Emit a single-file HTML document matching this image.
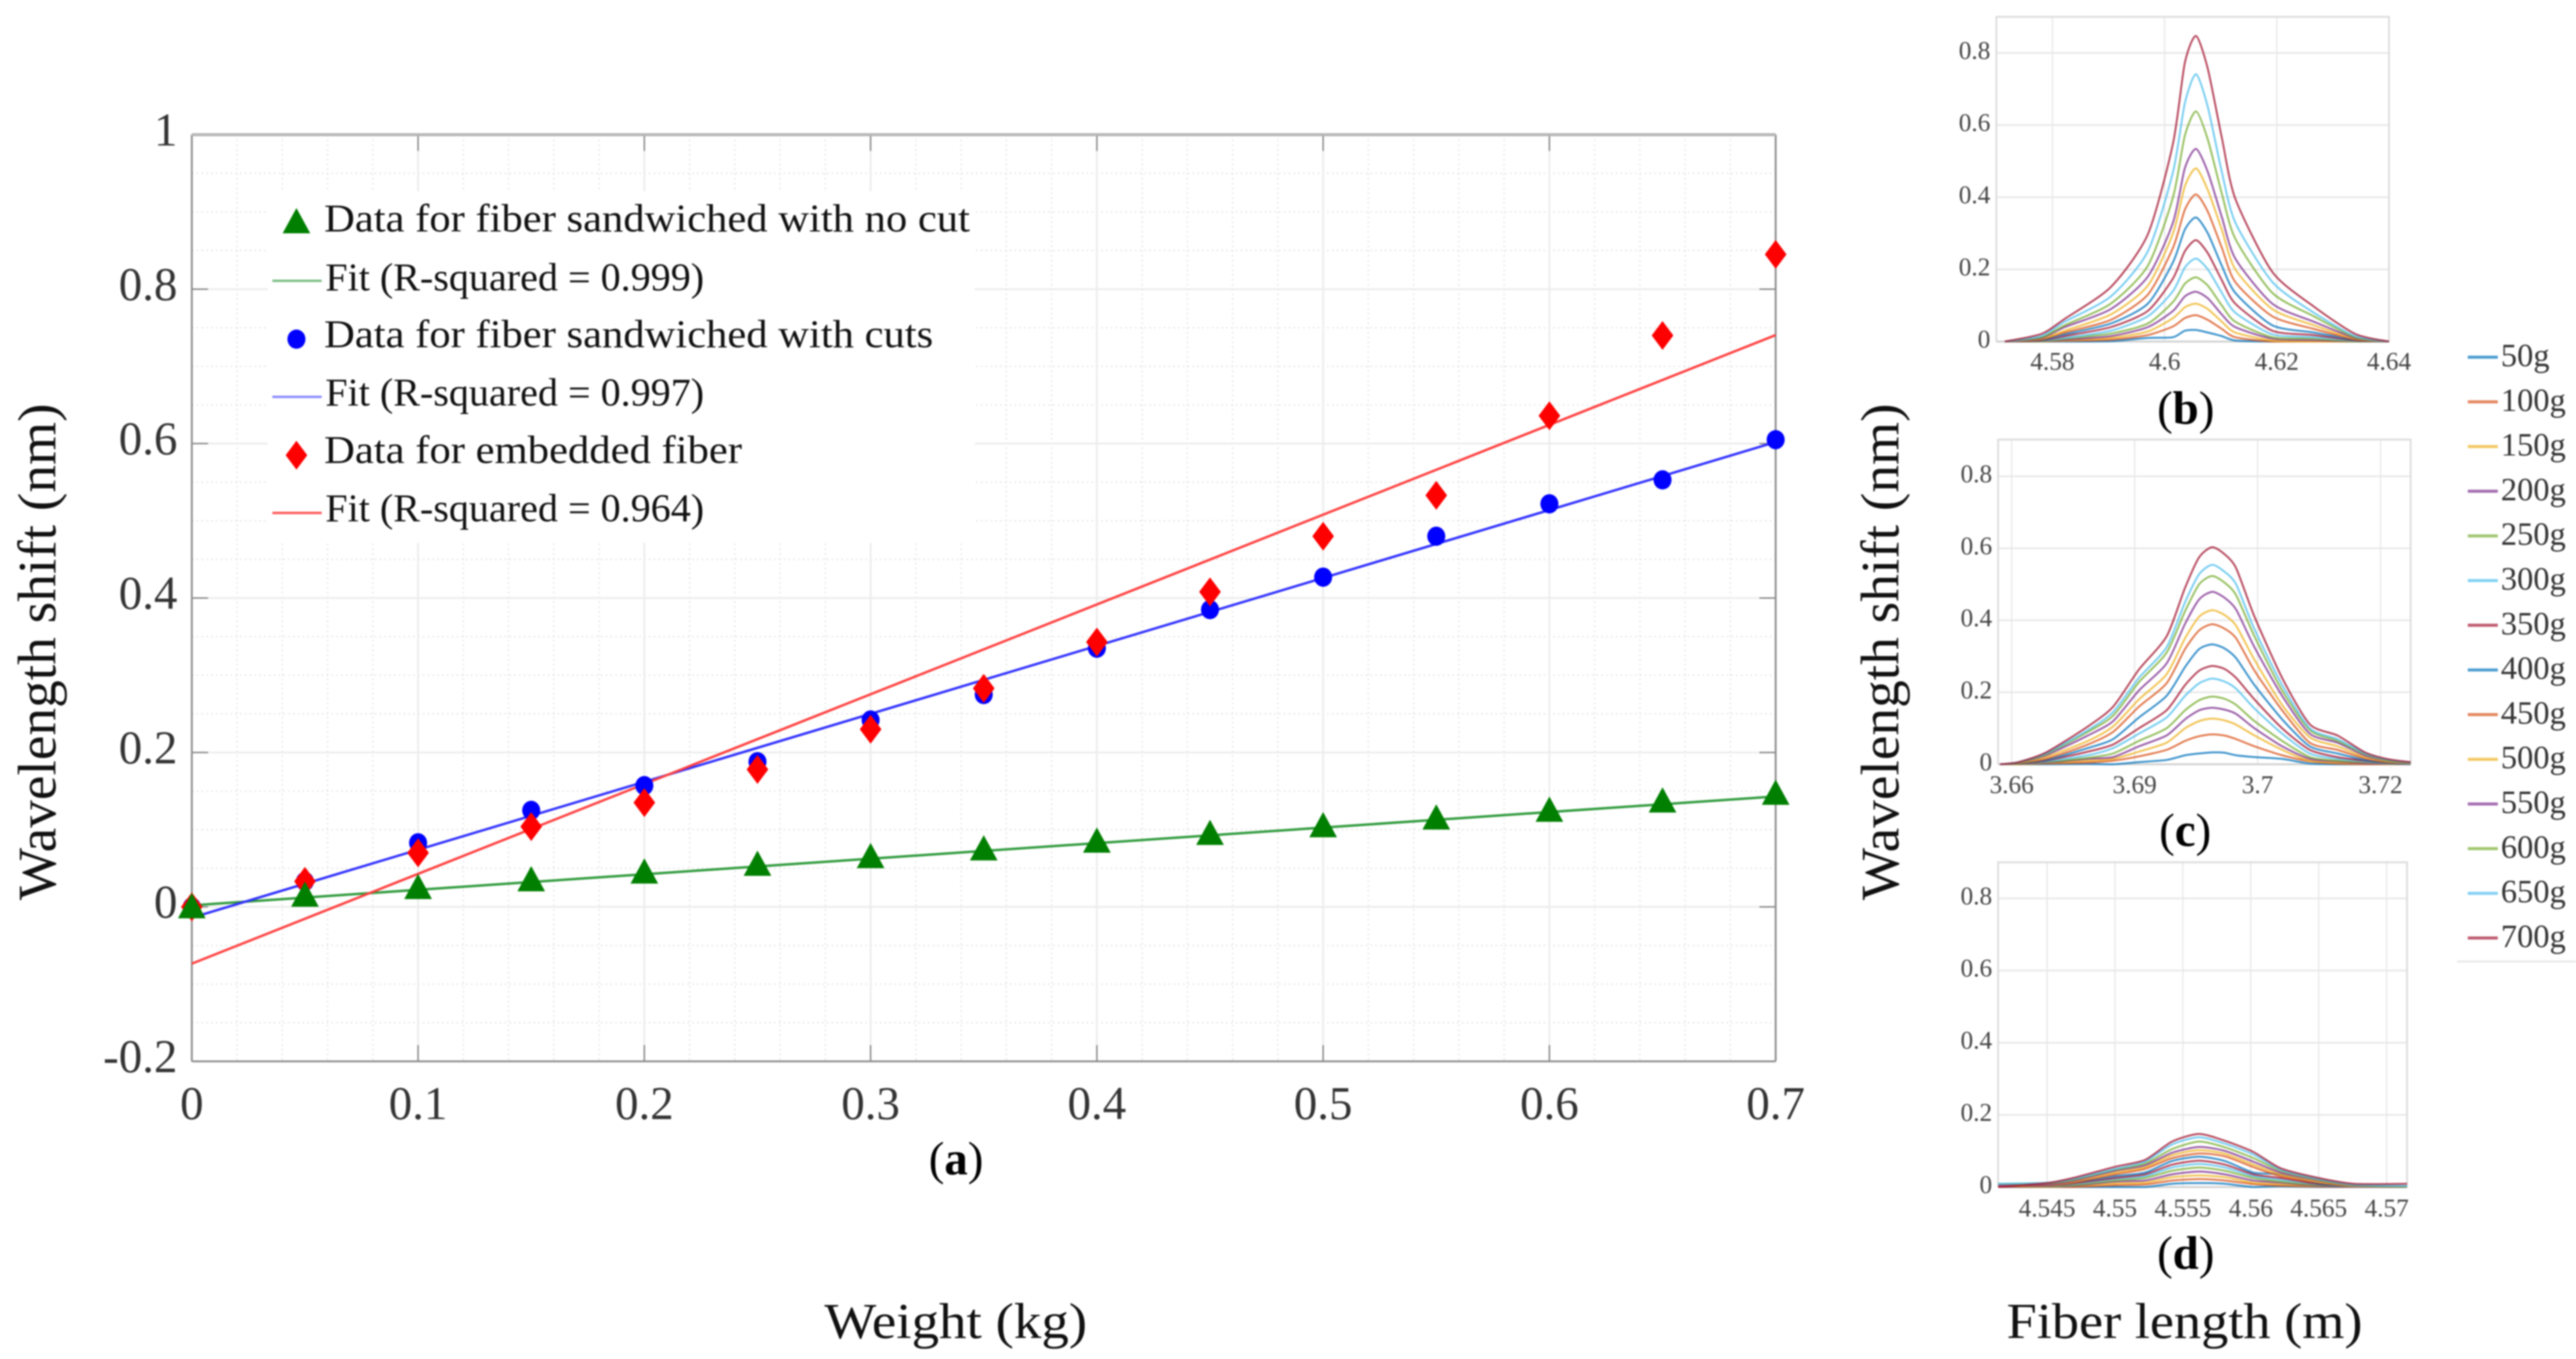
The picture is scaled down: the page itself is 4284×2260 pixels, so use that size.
<!DOCTYPE html>
<html lang="en">
<head>
<meta charset="utf-8">
<title>Wavelength shift versus weight</title>
<style>
html,body{margin:0;padding:0;background:#fff;width:4284px;height:2260px;overflow:hidden}
svg{display:block;filter:blur(1.4px)}
text{font-family:"Liberation Serif","DejaVu Serif",serif}
</style>
</head>
<body>
<svg id="figure" xmlns="http://www.w3.org/2000/svg" width="4284" height="2260" viewBox="0 0 4284 2260">
  <rect x="0" y="0" width="4284" height="2260" fill="#fff"/>
  <g id="main-chart"></g>
  <g id="panel-b"></g>
  <g id="panel-c"></g>
  <g id="panel-d"></g>
  <g id="weight-legend"></g>

  <text x="92" y="1084" transform="rotate(-90 92 1084)" text-anchor="middle" font-size="90" textLength="826" lengthAdjust="spacingAndGlyphs" fill="#111">Wavelength shift (nm)</text>
  <text x="3157" y="1084" transform="rotate(-90 3157 1084)" text-anchor="middle" font-size="90" textLength="826" lengthAdjust="spacingAndGlyphs" fill="#111">Wavelength shift (nm)</text>
  <text x="1371" y="2225" font-size="84" textLength="437" lengthAdjust="spacingAndGlyphs" fill="#111">Weight (kg)</text>
  <text x="3337" y="2225" font-size="84" textLength="592" lengthAdjust="spacingAndGlyphs" fill="#111">Fiber length (m)</text>

  <text x="1590" y="1953" text-anchor="middle" font-size="78" fill="#000">(<tspan font-weight="bold">a</tspan>)</text>
  <text x="3635" y="705" text-anchor="middle" font-size="78" fill="#000">(<tspan font-weight="bold">b</tspan>)</text>
  <text x="3634" y="1407" text-anchor="middle" font-size="78" fill="#000">(<tspan font-weight="bold">c</tspan>)</text>
  <text x="3635" y="2110" text-anchor="middle" font-size="78" fill="#000">(<tspan font-weight="bold">d</tspan>)</text>
</svg>

<script>
/* ---------- main chart data ---------- */
const weightsKg = [0,0.05,0.1,0.15,0.2,0.25,0.3,0.35,0.4,0.45,0.5,0.55,0.6,0.65,0.7];
const noCutValues = [0,0.015,0.025,0.035,0.045,0.055,0.065,0.075,0.085,0.095,0.105,0.115,0.125,0.137,0.147];
const withCutsValues = [0,0.033,0.083,0.125,0.157,0.188,0.242,0.275,0.335,0.385,0.427,0.48,0.522,0.553,0.605];
const embeddedValues = [0,0.033,0.07,0.104,0.135,0.178,0.23,0.283,0.343,0.408,0.48,0.533,0.636,0.74,0.845];
const fitWeights = [0,0.7];
const noCutFit = [0.002,0.143];
const withCutsFit = [-0.014,0.602];
const embeddedFit = [-0.0735,0.7405];
const mainXTicks = [0,0.1,0.2,0.3,0.4,0.5,0.6,0.7];
const mainXTickLabels = ["0","0.1","0.2","0.3","0.4","0.5","0.6","0.7"];
const mainYTicks = [-0.2,0,0.2,0.4,0.6,0.8,1];
const mainYTickLabels = ["-0.2","0","0.2","0.4","0.6","0.8","1"];
const mainXMinor = [0.02,0.04,0.06,0.08,0.12,0.14,0.16,0.18,0.22,0.24,0.26,0.28,0.32,0.34,0.36,0.38,0.42,0.44,0.46,0.48,0.52,0.54,0.56,0.58,0.62,0.64,0.66,0.68];
const mainYMinor = [-0.15,-0.1,-0.05,0.05,0.1,0.15,0.25,0.3,0.35,0.45,0.5,0.55,0.65,0.7,0.75,0.85,0.9,0.95];
const legendLabels = ["Data for fiber sandwiched with no cut","Fit (R-squared = 0.999)","Data for fiber sandwiched with cuts","Fit (R-squared = 0.997)","Data for embedded fiber","Fit (R-squared = 0.964)"];

/* ---------- spectra data ---------- */
const loadLabels = ["50g","100g","150g","200g","250g","300g","350g","400g","450g","500g","550g","600g","650g","700g"];
const panelYTicks = [0,0.2,0.4,0.6,0.8];
const panelYTickLabels = ["0","0.2","0.4","0.6","0.8"];

const bXTicks = [4.58,4.6,4.62,4.64];
const bXTickLabels = ["4.58","4.6","4.62","4.64"];
const bFiberLength = [4.5715,4.578,4.5822,4.5904,4.597,4.6015,4.6036,4.6056,4.6077,4.6102,4.6126,4.6192,4.6266,4.634,4.64];
const bSpectra = [
 [0,0,0,0.001,0.01,0.012,0.03,0.032,0.025,0.015,0.003,0,0,0,0],
 [0,0,0.002,0.005,0.018,0.042,0.065,0.073,0.06,0.035,0.012,0,0,0,0],
 [0,0,0.003,0.01,0.028,0.065,0.095,0.105,0.09,0.055,0.025,0.003,0,0,0],
 [0,0,0.005,0.015,0.04,0.085,0.125,0.138,0.12,0.075,0.04,0.008,0.004,0,0],
 [0,0,0.008,0.022,0.05,0.11,0.16,0.178,0.155,0.1,0.055,0.012,0.008,0,0],
 [0,0.002,0.01,0.03,0.07,0.14,0.205,0.23,0.2,0.135,0.08,0.02,0.012,0.002,0],
 [0,0.003,0.015,0.04,0.085,0.175,0.25,0.281,0.245,0.17,0.105,0.03,0.018,0.003,0],
 [0,0.005,0.02,0.05,0.105,0.22,0.31,0.344,0.3,0.21,0.135,0.045,0.025,0.005,0],
 [0,0.006,0.025,0.06,0.13,0.26,0.365,0.408,0.36,0.26,0.165,0.07,0.035,0.006,0],
 [0,0.008,0.03,0.075,0.155,0.3,0.43,0.48,0.42,0.31,0.2,0.09,0.045,0.008,0],
 [0,0.01,0.04,0.09,0.18,0.33,0.48,0.534,0.47,0.345,0.23,0.105,0.055,0.01,0],
 [0,0.012,0.045,0.105,0.21,0.4,0.57,0.638,0.56,0.41,0.285,0.135,0.07,0.012,0],
 [0,0.015,0.055,0.125,0.25,0.47,0.66,0.741,0.65,0.47,0.33,0.165,0.08,0.015,0],
 [0,0.021,0.063,0.151,0.297,0.549,0.772,0.847,0.756,0.565,0.396,0.193,0.097,0.021,0]
];

const cXTicks = [3.66,3.68,3.7,3.72];
const cXTickLabels = ["3.66","3.69","3.7","3.72"];
const cFiberLength = [3.6581,3.6611,3.6656,3.6724,3.6765,3.6807,3.6852,3.6882,3.6905,3.6926,3.6946,3.6965,3.6995,3.704,3.7085,3.713,3.7175,3.7213,3.7249];
const cSpectra = [
 [0,0,0,0.001,0,0.006,0.012,0.025,0.03,0.033,0.032,0.025,0.02,0.015,0.002,0,0,0,0],
 [0,0,0.002,0.005,0.01,0.022,0.04,0.065,0.078,0.083,0.08,0.07,0.05,0.025,0.008,0.002,0,0,0],
 [0,0,0.003,0.01,0.015,0.035,0.06,0.1,0.12,0.127,0.122,0.11,0.08,0.04,0.01,0.005,0.002,0,0],
 [0,0.001,0.004,0.015,0.02,0.05,0.08,0.125,0.15,0.157,0.152,0.14,0.1,0.05,0.015,0.008,0.003,0.001,0],
 [0,0.001,0.006,0.018,0.03,0.065,0.1,0.15,0.178,0.188,0.182,0.165,0.12,0.065,0.02,0.01,0.006,0.002,0.001],
 [0,0.002,0.008,0.025,0.045,0.085,0.13,0.19,0.225,0.238,0.23,0.21,0.155,0.085,0.03,0.015,0.008,0.003,0.001],
 [0,0.002,0.01,0.035,0.055,0.1,0.15,0.22,0.26,0.273,0.265,0.24,0.18,0.1,0.04,0.02,0.01,0.004,0.002],
 [0,0.003,0.012,0.045,0.07,0.13,0.19,0.27,0.32,0.333,0.322,0.295,0.22,0.125,0.05,0.03,0.012,0.005,0.002],
 [0,0.004,0.015,0.055,0.09,0.16,0.225,0.32,0.372,0.389,0.377,0.35,0.26,0.15,0.06,0.04,0.016,0.006,0.003],
 [0,0.004,0.02,0.065,0.105,0.18,0.25,0.35,0.41,0.428,0.415,0.385,0.29,0.165,0.075,0.05,0.02,0.008,0.003],
 [0,0.005,0.025,0.08,0.12,0.205,0.28,0.39,0.458,0.479,0.463,0.43,0.325,0.19,0.085,0.06,0.024,0.01,0.004],
 [0,0.005,0.028,0.09,0.135,0.228,0.31,0.425,0.5,0.523,0.505,0.47,0.355,0.205,0.095,0.065,0.028,0.01,0.004],
 [0,0.006,0.03,0.095,0.145,0.24,0.325,0.45,0.528,0.554,0.535,0.5,0.375,0.22,0.1,0.07,0.03,0.012,0.005],
 [0,0.006,0.033,0.105,0.16,0.263,0.355,0.49,0.575,0.603,0.584,0.545,0.41,0.24,0.111,0.08,0.033,0.014,0.006]
];

const dXTicks = [4.545,4.55,4.555,4.56,4.565,4.57];
const dXTickLabels = ["4.545","4.55","4.555","4.56","4.565","4.57"];
const dFiberLength = [4.5414,4.545,4.5469,4.55,4.5522,4.5542,4.5562,4.5581,4.5602,4.5622,4.565,4.5676,4.5715];
const dSpectra = [
 [0,0,0,0,0,0.009,0.011,0.009,0,0.002,0,0,0],
 [0,0,0,0.005,0.007,0.018,0.022,0.018,0.008,0.004,0.001,0,0],
 [0,0,0.002,0.01,0.012,0.027,0.032,0.027,0.012,0.008,0.002,0,0],
 [0,0.001,0.003,0.015,0.018,0.035,0.043,0.035,0.018,0.012,0.003,0,0],
 [0.001,0.001,0.005,0.018,0.025,0.045,0.054,0.045,0.025,0.015,0.005,0.001,0],
 [0.001,0.002,0.008,0.022,0.03,0.054,0.064,0.054,0.03,0.02,0.007,0.001,0],
 [0.001,0.003,0.01,0.025,0.035,0.062,0.073,0.062,0.035,0.025,0.008,0.002,0],
 [0.002,0.004,0.012,0.03,0.04,0.072,0.084,0.072,0.04,0.035,0.01,0.002,0],
 [0.002,0.004,0.012,0.035,0.05,0.08,0.093,0.085,0.055,0.03,0.012,0.002,0.001],
 [0.003,0.005,0.015,0.04,0.055,0.088,0.102,0.092,0.062,0.035,0.015,0.003,0.001],
 [0.005,0.006,0.017,0.045,0.06,0.095,0.111,0.1,0.07,0.04,0.018,0.004,0.002],
 [0.009,0.01,0.02,0.048,0.065,0.105,0.126,0.11,0.08,0.045,0.02,0.005,0.002],
 [0.009,0.012,0.022,0.05,0.07,0.118,0.138,0.12,0.09,0.048,0.022,0.006,0.003],
 [0,0.011,0.025,0.056,0.075,0.126,0.147,0.128,0.097,0.052,0.025,0.009,0.009]
];

/* ---------- drawing helpers ---------- */
const SVGNS = "http://www.w3.org/2000/svg";
const lineCycle = ["#0072BD","#D95319","#EDB120","#7E2F8E","#77AC30","#4DBEEE","#A2142F"];

function mk(tag, parent, attrs, txt) {
  const el = document.createElementNS(SVGNS, tag);
  for (const k in attrs) el.setAttribute(k, attrs[k]);
  if (txt !== undefined) el.textContent = txt;
  parent.appendChild(el);
  return el;
}
function triPts(cx, cy0) {
  const cy = cy0 - 2;
  return `${cx-23},${cy+21} ${cx+23},${cy+21} ${cx},${cy-21}`;
}
function diaPts(cx, cy) { return `${cx-18},${cy} ${cx},${cy-24} ${cx+18},${cy} ${cx},${cy+24}`; }

/* smooth path passing through every sampled point */
function smoothPath(pts, maxY) {
  let d = `M${pts[0][0].toFixed(1)} ${pts[0][1].toFixed(1)}`;
  const k = 0.12;
  for (let i = 0; i < pts.length - 1; i++) {
    const p0 = pts[Math.max(i - 1, 0)], p1 = pts[i], p2 = pts[i + 1], p3 = pts[Math.min(i + 2, pts.length - 1)];
    const c1x = p1[0] + (p2[0] - p0[0]) * k, c1y = Math.min(maxY, p1[1] + (p2[1] - p0[1]) * k);
    const c2x = p2[0] - (p3[0] - p1[0]) * k, c2y = Math.min(maxY, p2[1] - (p3[1] - p1[1]) * k);
    d += `C${c1x.toFixed(1)} ${c1y.toFixed(1)} ${c2x.toFixed(1)} ${c2y.toFixed(1)} ${p2[0].toFixed(1)} ${p2[1].toFixed(1)}`;
  }
  return d;
}

/* ---------- main chart ---------- */
const MAIN = {left:319, right:2953, top:224, bottom:1765, xMax:0.7, yMin:-0.2, yMax:1};
function xMain(v) { return MAIN.left + (v / MAIN.xMax) * (MAIN.right - MAIN.left); }
function yMain(v) { return MAIN.bottom - ((v - MAIN.yMin) / (MAIN.yMax - MAIN.yMin)) * (MAIN.bottom - MAIN.top); }

function drawMain() {
  const g = document.getElementById("main-chart");

  mainXMinor.forEach(v => {
    const el = mk("line", g, {x1:xMain(v), x2:xMain(v), y1:MAIN.top, y2:MAIN.bottom, stroke:"#e4e4e4", "stroke-width":2, "stroke-dasharray":"3 5"});
    
    
  });
  mainYMinor.forEach(v => {
    const el = mk("line", g, {x1:MAIN.left, x2:MAIN.right, y1:yMain(v), y2:yMain(v), stroke:"#e4e4e4", "stroke-width":2, "stroke-dasharray":"3 5"});
    
    
  });
  mainXTicks.forEach(v => {
    const el = mk("line", g, {x1:xMain(v), x2:xMain(v), y1:MAIN.top, y2:MAIN.bottom, stroke:"#ececec", "stroke-width":3});
    
    
  });
  mainYTicks.forEach(v => {
    const el = mk("line", g, {x1:MAIN.left, x2:MAIN.right, y1:yMain(v), y2:yMain(v), stroke:"#ececec", "stroke-width":3});
    
    
  });

  const box = mk("rect", g, {x:445, y:318, width:1176, height:585, fill:"#fff"});
  
  

  mainXTicks.forEach(v => {
    const top = mk("line", g, {x1:xMain(v), x2:xMain(v), y1:MAIN.top, y2:MAIN.top+27, stroke:"#777", "stroke-width":2});
    
    
    const bot = mk("line", g, {x1:xMain(v), x2:xMain(v), y1:MAIN.bottom-27, y2:MAIN.bottom, stroke:"#777", "stroke-width":2});
    
    
  });
  mainYTicks.forEach(v => {
    const l = mk("line", g, {x1:MAIN.left, x2:MAIN.left+27, y1:yMain(v), y2:yMain(v), stroke:"#777", "stroke-width":2});
    
    
    const r = mk("line", g, {x1:MAIN.right-27, x2:MAIN.right, y1:yMain(v), y2:yMain(v), stroke:"#777", "stroke-width":2});
    
    
  });

  const frameLeft = mk("line", g, {x1:MAIN.left, x2:MAIN.left, y1:MAIN.top, y2:MAIN.bottom, stroke:"#8a8a8a", "stroke-width":3});
  
  
  const frameRight = mk("line", g, {x1:MAIN.right, x2:MAIN.right, y1:MAIN.top, y2:MAIN.bottom, stroke:"#8a8a8a", "stroke-width":3});
  
  
  const frameBottom = mk("line", g, {x1:MAIN.left, x2:MAIN.right, y1:MAIN.bottom, y2:MAIN.bottom, stroke:"#8a8a8a", "stroke-width":3});
  
  
  const frameTop = mk("line", g, {x1:MAIN.left, x2:MAIN.right, y1:MAIN.top, y2:MAIN.top, stroke:"#b5b5b5", "stroke-width":5});
  
  

  mainXTicks.forEach((v, i) => {
    const t = mk("text", g, {x:xMain(v), y:1861, "text-anchor":"middle", "font-size":78, fill:"#333"}, mainXTickLabels[i]);
    
    
  });
  mainYTicks.forEach((v, i) => {
    const t = mk("text", g, {x:295, y:yMain(v)+18, "text-anchor":"end", "font-size":78, fill:"#333"}, mainYTickLabels[i]);
    
    
  });

  const fitGreen = mk("line", g, {x1:xMain(fitWeights[0]), x2:xMain(fitWeights[1]), y1:yMain(noCutFit[0]), y2:yMain(noCutFit[1]), stroke:"#2f9a3c", "stroke-width":4});
  
  
  const fitBlue = mk("line", g, {x1:xMain(fitWeights[0]), x2:xMain(fitWeights[1]), y1:yMain(withCutsFit[0]), y2:yMain(withCutsFit[1]), stroke:"#3030ff", "stroke-width":4});
  
  
  const fitRed = mk("line", g, {x1:xMain(fitWeights[0]), x2:xMain(fitWeights[1]), y1:yMain(embeddedFit[0]), y2:yMain(embeddedFit[1]), stroke:"#ff4040", "stroke-width":4});
  
  

  weightsKg.forEach((w, i) => {
    const c = mk("ellipse", g, {cx:xMain(w), cy:yMain(withCutsValues[i]), rx:15, ry:16, fill:"#0000ff"});
    
    
  });
  weightsKg.forEach((w, i) => {
    const d = mk("polygon", g, {points:diaPts(xMain(w), yMain(embeddedValues[i])), fill:"#ff0000"});
    
    
  });
  weightsKg.forEach((w, i) => {
    const t = mk("polygon", g, {points:triPts(xMain(w), yMain(noCutValues[i])), fill:"#007f00"});
    
    
  });

  /* legend */
  const rowBaselines = [385,483,577.5,674.5,770,867];
  const rowWidths = [1074,630,1013,630,695,630];
  const rowStarts = [539,541,539,541,539,541];
  legendLabels.forEach((s, i) => {
    const t = mk("text", g, {x:rowStarts[i], y:rowBaselines[i], "font-size":66, fill:"#111", textLength:rowWidths[i], lengthAdjust:"spacingAndGlyphs"}, s);
    
    
  });
  const lt = mk("polygon", g, {points:triPts(493, 369), fill:"#007f00"});
  
  
  const lc = mk("ellipse", g, {cx:493, cy:564, rx:15, ry:16, fill:"#0000ff"});
  
  
  const ld = mk("polygon", g, {points:diaPts(493, 757), fill:"#ff0000"});
  
  
  const l1 = mk("line", g, {x1:453, x2:535, y1:467, y2:467, stroke:"#7fbf86", "stroke-width":4});
  
  
  const l2 = mk("line", g, {x1:453, x2:535, y1:660, y2:660, stroke:"#8c8cff", "stroke-width":4});
  
  
  const l3 = mk("line", g, {x1:453, x2:535, y1:853, y2:853, stroke:"#ff5a5a", "stroke-width":4});
  
  
}

/* ---------- spectra panels ---------- */
function drawPanel(id, box, xTicks, xTickLabels, fiberLength, spectra) {
  const g = document.getElementById(id);
  const xP = v => box.left + (v - box.xMin) / (box.xMax - box.xMin) * (box.right - box.left);
  const yP = v => box.y0 - (v / 0.8) * (box.y0 - box.y08);

  xTicks.forEach((v, i) => {
    const gl = mk("line", g, {x1:xP(v), x2:xP(v), y1:box.top, y2:box.y0, stroke:"#e6e6e6", "stroke-width":2});
    
    
    const t = mk("text", g, {x:xP(v), y:box.xLabelY, "text-anchor":"middle", "font-size":42, fill:"#444"}, xTickLabels[i]);
    
    
  });
  panelYTicks.forEach((v, i) => {
    const gl = mk("line", g, {x1:box.left, x2:box.right, y1:yP(v), y2:yP(v), stroke:"#e6e6e6", "stroke-width":2.5});
    
    
    const t = mk("text", g, {x:box.left-10, y:yP(v)+10, "text-anchor":"end", "font-size":42, fill:"#444"}, panelYTickLabels[i]);
    
    
  });
  const frame = mk("path", g, {d:`M${box.left} ${box.y0}V${box.top}H${box.right}V${box.y0}`, fill:"none", stroke:"#dcdcdc", "stroke-width":3});
  
  
  const base = mk("line", g, {x1:box.left, x2:box.right, y1:box.y0, y2:box.y0, stroke:"#cfcfcf", "stroke-width":3});
  
  

  spectra.forEach((vals, s) => {
    const pts = vals.map((v, i) => [xP(fiberLength[i]), yP(v)]);
    const line = mk("path", g, {d:smoothPath(pts, box.y0), fill:"none", stroke:lineCycle[s % 7], "stroke-width":3, "stroke-opacity":0.8, "stroke-linejoin":"round"});
    
    
  });
}

function drawWeightLegend() {
  const g = document.getElementById("weight-legend");
  loadLabels.forEach((s, i) => {
    const y = 594 + i * 74.3;
    const line = mk("line", g, {x1:4104, x2:4154, y1:y, y2:y, stroke:lineCycle[i % 7], "stroke-width":5, "stroke-opacity":0.7});
    
    
    const t = mk("text", g, {x:4159, y:y+15, "font-size":54, fill:"#333"}, s);
    
    
  });
  const rule = mk("line", g, {x1:4086, x2:4284, y1:1599, y2:1599, stroke:"#e2e2e2", "stroke-width":2.5});
  
  
}

drawMain();
drawPanel("panel-b", {left:3320, right:3973, top:28, y0:568, y08:88, xMin:4.57, xMax:4.64, xLabelY:615}, bXTicks, bXTickLabels, bFiberLength, bSpectra);
drawPanel("panel-c", {left:3323, right:4009, top:731, y0:1271, y08:792, xMin:3.6578, xMax:3.7249, xLabelY:1319}, cXTicks, cXTickLabels, cFiberLength, cSpectra);
drawPanel("panel-d", {left:3323, right:4003, top:1434, y0:1974, y08:1494, xMin:4.5414, xMax:4.5715, xLabelY:2023}, dXTicks, dXTickLabels, dFiberLength, dSpectra);
drawWeightLegend();
</script>
</body>
</html>
